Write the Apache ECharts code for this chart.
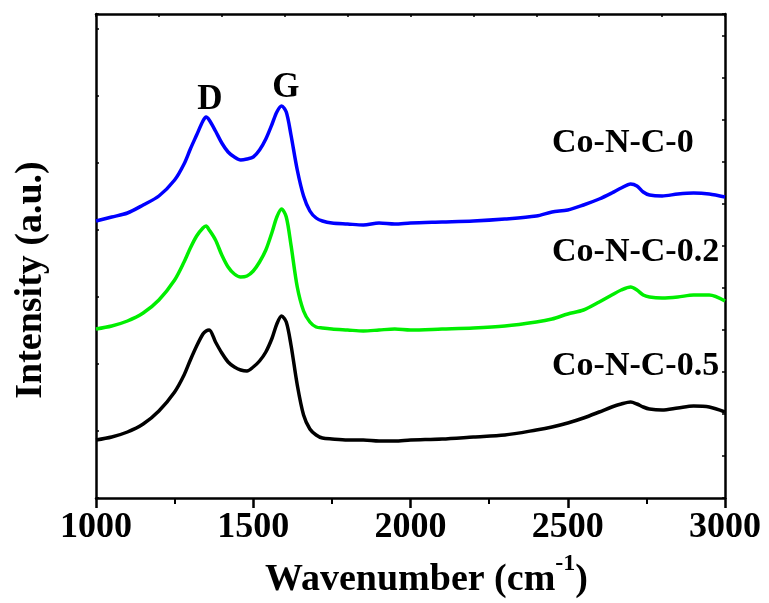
<!DOCTYPE html>
<html>
<head>
<meta charset="utf-8">
<script src="https://cdn.jsdelivr.net/npm/echarts@6/dist/echarts.min.js"></script>
<style>
  html, body { margin: 0; padding: 0; background: #fff; }
  #chart { width: 769px; height: 603px; }
</style>
</head>
<body>
<div id="chart"></div>
<script>
// Raman spectra, wavenumber (cm-1) vs intensity (a.u., offset per sample)
const wavenumbers = [1000, 1050, 1100, 1150, 1200, 1250, 1280, 1300, 1320, 1340, 1350, 1360, 1380, 1400, 1420, 1440, 1460, 1480, 1500, 1520, 1540, 1560, 1575, 1590, 1605, 1620, 1640, 1660, 1680, 1700, 1720, 1750, 1800, 1850, 1900, 1950, 2000, 2100, 2200, 2300, 2400, 2450, 2500, 2550, 2600, 2640, 2670, 2700, 2720, 2740, 2760, 2800, 2850, 2900, 2950, 3000]

const coNC0 = [277, 281, 285, 293, 302, 318, 334, 349, 363, 377, 381, 378, 367, 355, 346, 341, 338, 339, 341, 348, 359, 374, 386, 392, 386, 363, 328, 302, 287, 280, 277, 275, 274, 273, 275, 274, 275, 276, 277, 279, 282, 286, 288, 293, 299, 305, 310, 314, 312, 306, 303, 302, 304, 305, 304, 301]

const coNC02 = [169, 172, 177, 185, 198, 218, 236, 250, 262, 270, 272, 268, 258, 243, 231, 224, 221, 222, 227, 236, 248, 266, 281, 289, 281, 253, 211, 187, 176, 171, 170, 169, 168, 167, 168, 169, 168, 169, 170, 172, 176, 179, 184, 188, 196, 203, 208, 211, 208, 203, 201, 200, 201, 203, 203, 197]

const coNC05 = [58, 61, 66, 74, 87, 106, 123, 138, 152, 164, 167, 168, 156, 145, 136, 131, 128, 127, 131, 137, 146, 160, 174, 182, 176, 153, 113, 83, 69, 63, 60, 59, 58, 58, 57, 57, 58, 59, 61, 63, 68, 71, 75, 80, 86, 91, 94, 96, 94, 91, 89, 88, 90, 92, 91, 86]

const sampleNames = ['Co-N-C-0', 'Co-N-C-0.2', 'Co-N-C-0.5']
const sampleColors = ['#0000ff', '#00ee00', '#000000']
const sampleValues = [coNC0, coNC02, coNC05]

// label anchors in data space [wavenumber, intensity]
const sampleLabelAt = [[2450, 355], [2450, 246], [2450, 132]]
const peakLabels = [{ name: 'D', at: [1362, 398] }, { name: 'G', at: [1604, 410] }]

const xTicks = [1000, 1500, 2000, 2500, 3000]

const chart = echarts.init(document.getElementById('chart'))

const fontFamily = '"Liberation Serif", "Times New Roman", serif'

const toPairs = vals => wavenumbers.map((w, i) => [w, vals[i]])

const series = sampleNames.map((name, idx) => ({
  name: name,
  type: 'line',
  data: toPairs(sampleValues[idx]),
  showSymbol: false,
  smooth: 0.3,
  lineStyle: { width: 3.5, color: sampleColors[idx] },
  itemStyle: { color: sampleColors[idx] },
  silent: true,
  markPoint: {
    symbol: 'circle',
    symbolSize: 0,
    silent: true,
    label: {
      show: true,
      position: 'right',
      distance: 0,
      formatter: '{b}',
      color: '#000',
      fontFamily: fontFamily,
      fontWeight: 'bold',
      fontSize: 34
    },
    data: (idx === 0 ? peakLabels.map(p => ({
      name: p.name,
      coord: p.at,
      label: { position: 'inside', fontSize: 35 }
    })) : []).concat([{ name: name, coord: sampleLabelAt[idx] }])
  }
}))

const option = {
  animation: false,
  backgroundColor: '#fff',
  grid: {
    left: 96,
    right: 44,
    top: 14,
    bottom: 105,
    containLabel: false,
    outerBoundsMode: 'none'
  },
  xAxis: [
    {
      type: 'value',
      min: 1000,
      max: 3000,
      interval: 500,
      name: 'Wavenumber (cm{sup|-1})',
      nameLocation: 'middle',
      nameGap: 54,
      nameTextStyle: {
        fontFamily: fontFamily,
        fontWeight: 'bold',
        fontSize: 38,
        lineHeight: 56,
        color: '#000',
        padding: [0, 0, 0, 32],
        rich: {
          sup: {
            fontFamily: fontFamily,
            fontWeight: 'bold',
            fontSize: 24,
            lineHeight: 20,
            verticalAlign: 'top'
          }
        }
      },
      axisLine: { show: true, onZero: false, lineStyle: { color: '#000', width: 2.5 } },
      axisTick: { show: true, inside: false, length: 10, lineStyle: { color: '#000', width: 2.5 } },
      minorTick: { show: true, splitNumber: 2, length: 6, lineStyle: { color: '#000', width: 2 } },
      axisLabel: {
        margin: 12,
        color: '#000',
        fontFamily: fontFamily,
        fontWeight: 'bold',
        fontSize: 36,
        formatter: v => xTicks.includes(v) ? String(v) : ''
      },
      splitLine: { show: false }
    },
    {
      type: 'value',
      position: 'top',
      min: 1000,
      max: 3000,
      interval: 200,
      axisLine: { show: true, onZero: false, lineStyle: { color: '#000', width: 2.5 } },
      axisTick: { show: true, inside: true, length: 3, lineStyle: { color: '#000', width: 1.5 } },
      axisLabel: { show: false },
      splitLine: { show: false }
    }
  ],
  yAxis: [
    {
      type: 'value',
      min: 0,
      max: 484,
      interval: 67,
      name: 'Intensity (a.u.)',
      nameLocation: 'middle',
      nameGap: 46,
      nameRotate: 90,
      nameTextStyle: {
        fontFamily: fontFamily,
        fontWeight: 'bold',
        fontSize: 38,
        color: '#000',
        padding: [0, 48, 0, 0]
      },
      axisLine: { show: true, onZero: false, lineStyle: { color: '#000', width: 2.5 } },
      axisTick: { show: true, inside: true, length: 3, lineStyle: { color: '#000', width: 1.5 } },
      axisLabel: { show: false },
      splitLine: { show: false }
    },
    {
      type: 'value',
      position: 'right',
      min: 0,
      max: 484,
      interval: 42,
      axisLine: { show: true, onZero: false, lineStyle: { color: '#000', width: 2.5 } },
      axisTick: { show: true, inside: true, length: 3, lineStyle: { color: '#000', width: 1.5 } },
      axisLabel: { show: false },
      splitLine: { show: false }
    }
  ],
  series: series
}

chart.setOption(option)
</script>
</body>
</html>
